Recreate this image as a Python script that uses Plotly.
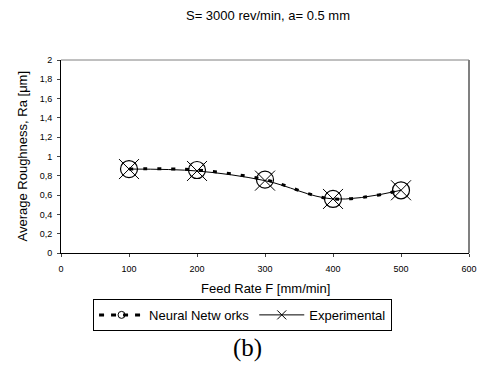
import plotly.graph_objects as go

feed = [100, 200, 300, 400, 500]
nn_vals = [0.87, 0.86, 0.76, 0.56, 0.65]
exp_vals = [0.87, 0.85, 0.75, 0.56, 0.65]
x_ticks = [0, 100, 200, 300, 400, 500, 600]
y_ticks = [0, 0.2, 0.4, 0.6, 0.8, 1, 1.2, 1.4, 1.6, 1.8, 2]
y_ticklabels = ["0", "0,2", "0,4", "0,6", "0,8", "1", "1,2", "1,4", "1,6", "1,8", "2"]

fig = go.Figure()
fig.add_trace(go.Scatter(x=feed, y=exp_vals, mode="lines+markers", showlegend=False,
                         line=dict(color="black", width=1, shape="spline", smoothing=1.0),
                         marker=dict(symbol="x-thin", size=20, line=dict(color="black", width=1))))
fig.add_trace(go.Scatter(x=feed, y=nn_vals, mode="lines+markers", showlegend=False,
                         line=dict(color="black", width=3, dash="4px,10px", shape="spline", smoothing=1.0),
                         marker=dict(symbol="circle-open", size=17, color="black", line=dict(color="black", width=1.2))))
# legend entries
fig.add_trace(go.Scatter(x=[None], y=[None], mode="lines+markers", name="Neural Netw orks",
                         line=dict(color="black", width=3, dash="5px,7px"),
                         marker=dict(symbol="circle-open", size=7, color="black", line=dict(width=1))))
fig.add_trace(go.Scatter(x=[None], y=[None], mode="lines+markers", name="Experimental",
                         line=dict(color="black", width=1),
                         marker=dict(symbol="x-thin", size=9, line=dict(color="black", width=1))))

fig.update_layout(
    width=479, height=367,
    margin=dict(l=61, r=10, t=60, b=114, autoexpand=False),
    paper_bgcolor="white", plot_bgcolor="white",
    font=dict(family="Liberation Sans, Arial", color="black"),
    title=dict(text="S= 3000 rev/min, a= 0.5 mm", x=0.5595, xanchor="center", y=0.959, yanchor="middle",
               font=dict(size=13)),
    xaxis=dict(range=[0, 600], tickvals=x_ticks, showgrid=False, zeroline=False, automargin=False,
               showline=True, linecolor="black", linewidth=1, ticks="outside", ticklen=3,
               ticklabelstandoff=4, tickfont=dict(size=9)),
    yaxis=dict(range=[0, 2], tickvals=y_ticks, ticktext=y_ticklabels, showgrid=False, zeroline=False,
               automargin=False, showline=True, linecolor="black", linewidth=1, ticks="outside", ticklen=3,
               ticklabelstandoff=3, tickfont=dict(size=9)),
    legend=dict(orientation="h", x=0.445, xanchor="center", y=-0.238, yanchor="top",
                bordercolor="black", borderwidth=1, font=dict(size=13),
                itemwidth=45, tracegroupgap=0),
    shapes=[
        dict(type="line", xref="paper", yref="paper", x0=0, x1=1, y0=1, y1=1, line=dict(color="gray", width=1)),
        dict(type="line", xref="paper", yref="paper", x0=1, x1=1, y0=0, y1=1, line=dict(color="gray", width=2)),
    ],
    annotations=[
        dict(text="Feed Rate F [mm/min]", xref="paper", yref="paper", x=(265 - 61) / 408, y=-(288 - 253) / 193,
             xanchor="center", yanchor="middle", showarrow=False, font=dict(size=13)),
        dict(text="Average Roughness, Ra [μm]", xref="paper", yref="paper", x=-(61 - 22) / 408, y=0.5,
             xanchor="center", yanchor="middle", textangle=-90, showarrow=False, font=dict(size=13)),
        dict(text="(b)", xref="paper", yref="paper", x=0.457, y=-0.492, xanchor="center", yanchor="middle",
             showarrow=False, font=dict(family="Liberation Serif, Times New Roman", size=25)),
    ],
)

fig.write_html("out.html", config={"displayModeBar": False},
               post_script="document.body.style.margin='0';")
